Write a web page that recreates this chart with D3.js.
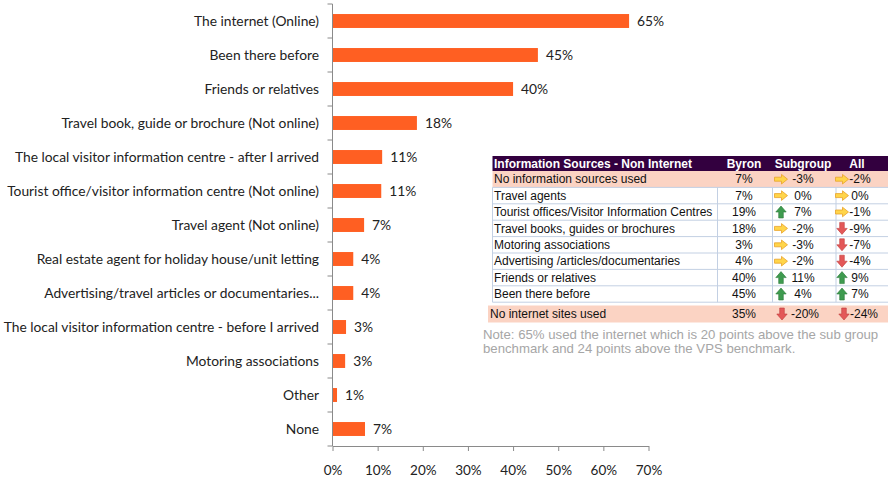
<!DOCTYPE html>
<html>
<head>
<meta charset="utf-8">
<script src="https://cdn.jsdelivr.net/npm/d3@7"></script>
<style>
  body { margin: 0; background: #fff; }
  svg { display: block; }
</style>
</head>
<body>
<svg width="890" height="479"></svg>
<script>
// chart data
const categories = [
  'The internet (Online)',
  'Been there before',
  'Friends or relatives',
  'Travel book, guide or brochure (Not online)',
  'The local visitor information centre - after I arrived',
  'Tourist office/visitor information centre (Not online)',
  'Travel agent (Not online)',
  'Real estate agent for holiday house/unit letting',
  'Advertising/travel articles or documentaries...',
  'The local visitor information centre - before I arrived',
  'Motoring associations',
  'Other',
  'None'
];
const values = [65.7, 45.5, 40.0, 18.7, 11.0, 10.8, 7.0, 4.6, 4.6, 3.0, 2.8, 1.0, 7.2];
const valueLabels = ['65%', '45%', '40%', '18%', '11%', '11%', '7%', '4%', '4%', '3%', '3%', '1%', '7%'];
const xTicks = [0, 10, 20, 30, 40, 50, 60, 70];

// table data
const tableHeader = ['Information Sources - Non Internet', 'Byron', 'Subgroup', 'All'];
const tableRows = ['No information sources used', 'Travel agents', 'Tourist offices/Visitor Information Centres',
  'Travel books, guides or brochures', 'Motoring associations', 'Advertising /articles/documentaries',
  'Friends or relatives', 'Been there before'];
const byron = ['7%', '7%', '19%', '18%', '3%', '4%', '40%', '45%'];
const subgroup = ['-3%', '0%', '7%', '-2%', '-3%', '-2%', '11%', '4%'];
const subgroupDir = ['right', 'right', 'up', 'right', 'right', 'right', 'up', 'up'];
const allDiff = ['-2%', '0%', '-1%', '-9%', '-7%', '-4%', '9%', '7%'];
const allDir = ['right', 'right', 'right', 'down', 'down', 'down', 'up', 'up'];
const totalRow = ['No internet sites used', '35%', '-20%', '-24%'];
const totalDir = ['down', 'down'];
const noteLines = ['Note: 65% used the internet which is 20 points above the sub group',
  'benchmark and 24 points above the VPS benchmark.'];

const svg = d3.select('svg');
const chartFont = 'Lato, "Open Sans", sans-serif';
const tableFont = '"Liberation Sans", Arial, sans-serif';

const x = d3.scaleLinear().domain([0, 70]).range([332.5, 648.5]);
const y = d3.scaleBand().domain(categories).range([4, 446]).paddingInner(0.59).paddingOuter(0.295);
const step = y.step();

const g = svg.append('g');

// bars
g.selectAll('rect.bar')
  .data(values)
  .enter()
  .append('rect')
  .attr('class', 'bar')
  .attr('x', x(0))
  .attr('y', (d, i) => y(categories[i]))
  .attr('width', d => x(d) - x(0))
  .attr('height', y.bandwidth())
  .attr('fill', '#FF5F22');

// value labels
g.selectAll('text.val')
  .data(values)
  .enter()
  .append('text')
  .attr('class', 'val')
  .attr('x', d => x(d) + 8)
  .attr('y', (d, i) => y(categories[i]) + y.bandwidth() / 2)
  .attr('dy', '0.35em')
  .attr('font-family', chartFont)
  .attr('font-size', 13.8)
  .attr('fill', '#222')
  .text((d, i) => valueLabels[i]);

// category labels
g.selectAll('text.cat')
  .data(categories)
  .enter()
  .append('text')
  .attr('class', 'cat')
  .attr('x', 319)
  .attr('y', d => y(d) + y.bandwidth() / 2)
  .attr('dy', '0.35em')
  .attr('text-anchor', 'end')
  .attr('font-family', chartFont)
  .attr('font-size', 13.8)
  .attr('fill', '#222')
  .text(d => d);

// y axis line + ticks between categories
const axisColor = '#8a8a8a';
const yTop = 4, yBottom = 446;
g.append('line')
  .attr('x1', x(0)).attr('x2', x(0))
  .attr('y1', yTop).attr('y2', yBottom)
  .attr('stroke', axisColor);
g.selectAll('line.ytick')
  .data(d3.range(categories.length + 1))
  .enter()
  .append('line')
  .attr('x1', x(0) - 5).attr('x2', x(0))
  .attr('y1', d => yTop + d * step).attr('y2', d => yTop + d * step)
  .attr('stroke', axisColor);

// x axis
const xAxis = g.append('g')
  .attr('transform', `translate(0,${yBottom})`)
  .call(d3.axisBottom(x).tickValues(xTicks).tickSize(5).tickSizeOuter(0).tickPadding(14).tickFormat(d => d + '%'));
xAxis.select('.domain').attr('stroke', axisColor);
xAxis.selectAll('.tick line').attr('stroke', axisColor);
xAxis.selectAll('.tick text')
  .attr('font-family', chartFont)
  .attr('font-size', 13.5)
  .attr('fill', '#222');

// ---- table ----
const tLeft = 492.5, tRight = 888;
const colByron = 744, colSubLine = 772.5, colAllLine = 836, colDivByron = 717.5;
const rowTop = 171, rowH = 16.4, headTop = 156;
const tbl = svg.append('g').attr('font-family', tableFont).attr('font-size', 12);

tbl.append('rect')
  .attr('x', tLeft).attr('y', headTop)
  .attr('width', tRight - tLeft).attr('height', rowTop - headTop)
  .attr('fill', '#33003F');
const headX = [494, colByron, 803, 857];
tbl.selectAll('text.head')
  .data(tableHeader)
  .enter()
  .append('text')
  .attr('x', (d, i) => headX[i])
  .attr('y', headTop + 12)
  .attr('text-anchor', (d, i) => i === 0 ? 'start' : 'middle')
  .attr('font-weight', 'bold')
  .attr('fill', '#fff')
  .text(d => d);

// first row highlighted
tbl.append('rect')
  .attr('x', tLeft).attr('y', rowTop)
  .attr('width', tRight - tLeft).attr('height', rowH)
  .attr('fill', '#FBD3C3');

const gridColor = '#c3d0e3';
const lastBottom = rowTop + rowH * tableRows.length;
tbl.selectAll('line.hgrid')
  .data(d3.range(1, tableRows.length + 1))
  .enter()
  .append('line')
  .attr('x1', tLeft).attr('x2', tRight)
  .attr('y1', d => rowTop + d * rowH).attr('y2', d => rowTop + d * rowH)
  .attr('stroke', gridColor);
[tLeft, colDivByron, colSubLine, colAllLine].forEach(vx => {
  tbl.append('line')
    .attr('x1', vx).attr('x2', vx)
    .attr('y1', rowTop + rowH).attr('y2', lastBottom)
    .attr('stroke', gridColor);
});

function arrow(sel, dir, cx, cy) {
  const a = sel.append('g').attr('transform', `translate(${cx},${cy})`);
  if (dir === 'right') {
    a.append('path')
      .attr('d', 'M-6.5,-2 L0.5,-2 L0.5,-4.8 L6.5,0 L0.5,4.8 L0.5,2 L-6.5,2 Z')
      .attr('fill', '#FFD54A').attr('stroke', '#E8A22A').attr('stroke-width', 0.8);
  } else if (dir === 'up') {
    a.append('path')
      .attr('d', 'M-2.3,6 L-2.3,0 L-5.2,0 L0,-6 L5.2,0 L2.3,0 L2.3,6 Z')
      .attr('fill', '#3E9B4F').attr('stroke', '#2C7A3A').attr('stroke-width', 0.6);
  } else {
    a.append('path')
      .attr('d', 'M-2.3,-6 L-2.3,0 L-5.2,0 L0,6 L5.2,0 L2.3,0 L2.3,-6 Z')
      .attr('fill', '#E35858').attr('stroke', '#C03A3A').attr('stroke-width', 0.6);
  }
}

tableRows.forEach((r, i) => {
  const cy = rowTop + rowH * i + rowH / 2;
  tbl.append('text').attr('x', 494).attr('y', cy).attr('dy', '0.35em').attr('fill', '#111').text(r);
  tbl.append('text').attr('x', colByron).attr('y', cy).attr('dy', '0.35em').attr('text-anchor', 'middle').attr('fill', '#111').text(byron[i]);
  arrow(tbl, subgroupDir[i], 781, cy);
  tbl.append('text').attr('x', 803).attr('y', cy).attr('dy', '0.35em').attr('text-anchor', 'middle').attr('fill', '#111').text(subgroup[i]);
  arrow(tbl, allDir[i], 842, cy);
  tbl.append('text').attr('x', 860).attr('y', cy).attr('dy', '0.35em').attr('text-anchor', 'middle').attr('fill', '#111').text(allDiff[i]);
});

// total row
const totTop = 305.5;
tbl.append('rect')
  .attr('x', 488).attr('y', totTop)
  .attr('width', tRight - 488).attr('height', 17)
  .attr('fill', '#FBD3C3');
const tcy = totTop + 8.5;
tbl.append('text').attr('x', 490).attr('y', tcy).attr('dy', '0.35em').attr('fill', '#111').text(totalRow[0]);
tbl.append('text').attr('x', colByron).attr('y', tcy).attr('dy', '0.35em').attr('text-anchor', 'middle').attr('fill', '#111').text(totalRow[1]);
arrow(tbl, totalDir[0], 782, tcy);
tbl.append('text').attr('x', 805).attr('y', tcy).attr('dy', '0.35em').attr('text-anchor', 'middle').attr('fill', '#111').text(totalRow[2]);
arrow(tbl, totalDir[1], 844, tcy);
tbl.append('text').attr('x', 864).attr('y', tcy).attr('dy', '0.35em').attr('text-anchor', 'middle').attr('fill', '#111').text(totalRow[3]);

// note
svg.selectAll('text.note')
  .data(noteLines)
  .enter()
  .append('text')
  .attr('class', 'note')
  .attr('x', 483)
  .attr('y', (d, i) => 339 + i * 14)
  .attr('font-family', tableFont)
  .attr('font-size', 13.2)
  .attr('fill', '#A6A6A6')
  .text(d => d);
</script>
</body>
</html>
